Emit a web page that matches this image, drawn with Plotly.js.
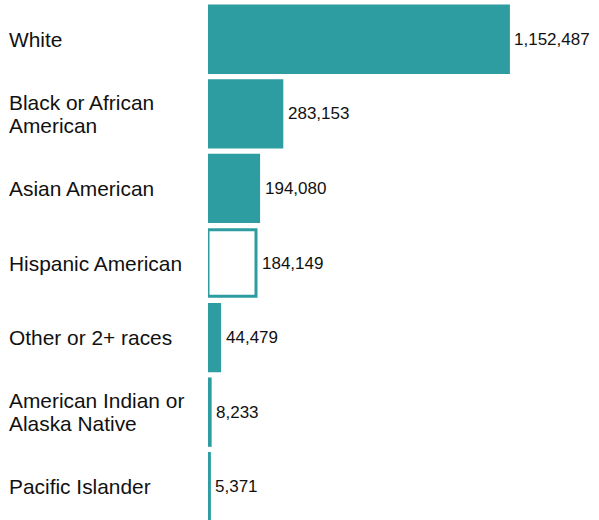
<!DOCTYPE html>
<html>
<head>
<meta charset="utf-8">
<script src="https://cdn.plot.ly/plotly-3.0.1.min.js"></script>
<style>
html, body { margin: 0; padding: 0; overflow: hidden; background: #fff; }
#chart { width: 599px; height: 530px; }
</style>
</head>
<body>
<div id="chart"></div>
<script>
const categories = ["White", "Black or African<br>American", "Asian American", "Hispanic American", "Other or 2+ races", "American Indian or<br>Alaska Native", "Pacific Islander"];
const values = [1152487, 283153, 194080, 184149, 44479, 8233, 5371];
const highlighted = [false, false, false, true, false, false, false];

const TEAL = "#2E9DA1";
const FONT = "Liberation Sans, Arial, sans-serif";
const LINE_GAP = 23;

const trace = {
  type: "bar",
  orientation: "h",
  y: categories,
  x: values,
  marker: {
    color: highlighted.map(h => h ? "#ffffff" : TEAL),
    line: { color: TEAL, width: 3 }
  },
  hoverinfo: "none"
};

const annotations = [];
categories.forEach((c, i) => {
  const lines = c.split("<br>");
  lines.forEach((ln, k) => {
    annotations.push({
      xref: "paper", yref: "y", x: 0, y: c,
      xanchor: "left", yanchor: "middle", align: "left",
      xshift: -201,
      yshift: ((lines.length - 1) / 2 - k) * LINE_GAP,
      text: ln, showarrow: false,
      font: { family: FONT, size: 20.9, color: "#111" }
    });
  });
  annotations.push({
    xref: "x", yref: "y", x: values[i], y: c,
    xanchor: "left", yanchor: "middle", align: "left",
    xshift: 4,
    text: values[i].toLocaleString("en-US"), showarrow: false,
    font: { family: FONT, size: 17, color: "#111" }
  });
});

const layout = {
  width: 599, height: 530,
  margin: { l: 208, r: 0, t: 2, b: 6, pad: 0 },
  paper_bgcolor: "#fff", plot_bgcolor: "#fff",
  bargap: 0.11,
  showlegend: false,
  xaxis: { range: [0, 1500000], visible: false, fixedrange: true },
  yaxis: { autorange: "reversed", showticklabels: false, showgrid: false, zeroline: false, showline: false, ticks: "", fixedrange: true },
  annotations: annotations,
  font: { family: FONT }
};

Plotly.newPlot("chart", [trace], layout, { displayModeBar: false, staticPlot: true });
</script>
</body>
</html>
